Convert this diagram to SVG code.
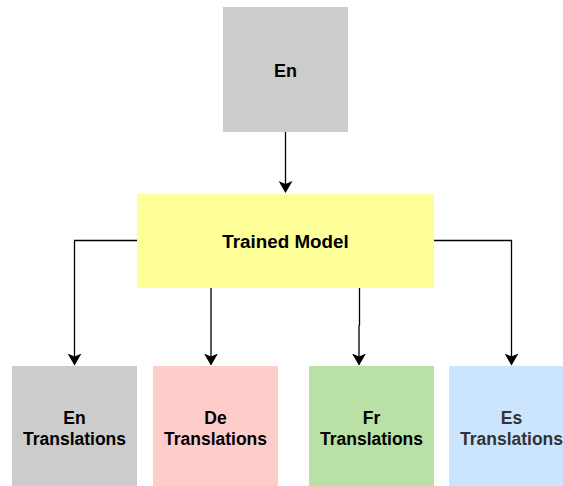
<svg xmlns="http://www.w3.org/2000/svg" width="563" height="486" viewBox="0 0 563 486">
<style>
.lbl{font-family:"Liberation Sans",Arial,Helvetica,sans-serif;font-weight:bold;font-size:17.5px;text-anchor:middle;fill:#000}
.conn{fill:none;stroke:#000;stroke-width:1.3}
</style>
<defs>
<marker id="arr" viewBox="0 0 12 14" refX="11" refY="7" markerWidth="12" markerHeight="14" markerUnits="userSpaceOnUse" orient="auto">
<path d="M0,0 L12,7 L0,14 L3,7 Z" fill="#000"/>
</marker>
</defs>
<rect width="563" height="486" fill="#fff"/>
<g id="connectors">
<path class="conn" d="M285.5,132 V192" marker-end="url(#arr)"/>
<path class="conn" d="M137,240.5 H74.5 V364.5" marker-end="url(#arr)"/>
<path class="conn" d="M211,288 V364.5" marker-end="url(#arr)"/>
<path class="conn" d="M359.5,288 V325 L359,326 V364.5" marker-end="url(#arr)"/>
<path class="conn" d="M434,240.5 H511.5 V364.5" marker-end="url(#arr)"/>
</g>
<g id="node-en-top">
<rect x="223" y="7" width="125" height="125" fill="#cccccc"/>
<text class="lbl" x="285.5" y="77" style="font-size:18px">En</text>
</g>
<g id="node-model">
<rect x="137" y="194" width="297" height="94" fill="#ffff99"/>
<text class="lbl" x="285.5" y="247.5" style="font-size:18.8px">Trained Model</text>
</g>
<g id="node-en">
<rect x="12" y="366" width="125" height="120" fill="#cccccc"/>
<text class="lbl" x="74.5" y="424">En</text>
<text class="lbl" x="74.5" y="445">Translations</text>
</g>
<g id="node-de">
<rect x="153" y="366" width="125" height="120" fill="#ffcccc"/>
<text class="lbl" x="215.5" y="424">De</text>
<text class="lbl" x="215.5" y="445">Translations</text>
</g>
<g id="node-fr">
<rect x="309" y="366" width="125" height="120" fill="#b9e0a5"/>
<text class="lbl" x="371.5" y="424">Fr</text>
<text class="lbl" x="371.5" y="445">Translations</text>
</g>
<g id="node-es">
<rect x="449" y="366" width="125" height="120" fill="#cce5ff"/>
<text class="lbl" x="511.5" y="424" style="fill:#333">Es</text>
<text class="lbl" x="511.5" y="445" style="fill:#333">Translations</text>
</g>
</svg>
